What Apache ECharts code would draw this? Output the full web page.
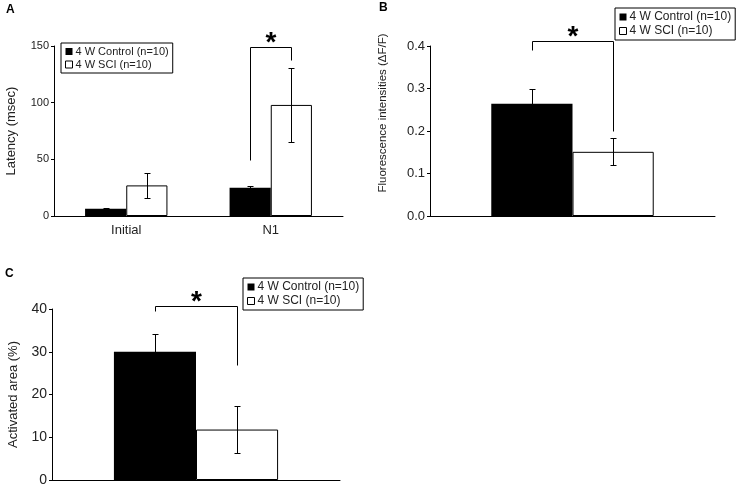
<!DOCTYPE html>
<html>
<head>
<meta charset="utf-8">
<script src="https://cdn.jsdelivr.net/npm/echarts@6/dist/echarts.min.js"></script>
<style>
  html, body { margin: 0; padding: 0; background: #fff; }
  #main { width: 737px; height: 489px; }
</style>
</head>
<body>
<div id="main"></div>
<script>
// 数据
var nameCtrl = '4 W Control (n=10)';
var nameSci = '4 W SCI (n=10)';

var catsA = ['Initial', 'N1'];
var ctrlA = [6.5, 25];
var ctrlErrA = [1, 1.5];
var sciA = [27, 98];
var sciErrA = [11, 32.5];

var catsB = [''];
var ctrlB = [0.264];
var ctrlErrB = [0.036];
var sciB = [0.151];
var sciErrB = [0.032];

var catsC = [''];
var ctrlC = [30];
var ctrlErrC = [4.2];
var sciC = [11.8];
var sciErrC = [5.5];

// bracket: [category, top, left foot, right foot]
var bracketA = [1, 149, 49, 138];
var bracketB = [0, 0.412, 0.39, 0.2];
var bracketC = [0, 40.6, 39.5, 27];

var GAP = 0.43;
var FONT = 'Liberation Sans, Arial, sans-serif';

var myChart = echarts.init(document.getElementById('main'));

function px(v) { return Math.round(v) + 0.5; }

function errRender(side) {
    return function (params, api) {
        var x = api.value(0), m = api.value(1), e = api.value(2);
        var band = api.size([1, 0])[0];
        var bw = band * (1 - GAP) / 2;
        var cx = px(api.coord([x, m])[0] + side * bw / 2);
        var top = px(api.coord([x, m + e])[1]);
        var bot = px(api.coord([x, m - e])[1]);
        var st = { stroke: '#000', lineWidth: 1 };
        return {
            type: 'group',
            children: [
                { type: 'line', shape: { x1: cx, y1: top, x2: cx, y2: bot }, style: st },
                { type: 'line', shape: { x1: cx - 3, y1: top, x2: cx + 3, y2: top }, style: st },
                { type: 'line', shape: { x1: cx - 3, y1: bot, x2: cx + 3, y2: bot }, style: st }
            ]
        };
    };
}

function bracketRender(params, api) {
    var x = api.value(0);
    var band = api.size([1, 0])[0];
    var bw = band * (1 - GAP) / 2;
    var c = api.coord([x, api.value(1)]);
    var xl = px(c[0] - bw / 2), xr = px(c[0] + bw / 2);
    var yt = px(c[1]);
    var yl = px(api.coord([x, api.value(2)])[1]);
    var yr = px(api.coord([x, api.value(3)])[1]);
    var st = { stroke: '#000', lineWidth: 1, fill: null };
    return {
        type: 'group',
        children: [
            { type: 'polyline', shape: { points: [[xl, yl], [xl, yt], [xr, yt], [xr, yr]] }, style: st },
            { type: 'text', x: (xl + xr) / 2, y: yt - 4,
              style: { text: '*', fill: '#000', font: 'bold 28px ' + FONT, align: 'center', verticalAlign: 'middle' } }
        ]
    };
}

function zip(vals, errs) {
    return vals.map(function (v, i) { return [i, v, errs[i]]; });
}

function panelSeries(idx, ctrl, ctrlErr, sci, sciErr, bracket) {
    return [
        { name: nameCtrl, type: 'bar', xAxisIndex: idx, yAxisIndex: idx, data: ctrl,
          barGap: '0%', barCategoryGap: (GAP * 100) + '%',
          itemStyle: { color: '#000' } },
        { name: nameSci, type: 'bar', xAxisIndex: idx, yAxisIndex: idx, data: sci,
          barGap: '0%', barCategoryGap: (GAP * 100) + '%',
          itemStyle: { color: '#fff', borderColor: '#000', borderWidth: 1 } },
        { type: 'custom', xAxisIndex: idx, yAxisIndex: idx, z: 3, renderItem: errRender(-1), data: zip(ctrl, ctrlErr) },
        { type: 'custom', xAxisIndex: idx, yAxisIndex: idx, z: 3, renderItem: errRender(1), data: zip(sci, sciErr) },
        { type: 'custom', xAxisIndex: idx, yAxisIndex: idx, z: 3, renderItem: bracketRender, data: [bracket] }
    ];
}

function xAxisOf(idx, cats, labelSize) {
    return {
        type: 'category', gridIndex: idx, data: cats,
        axisLine: { lineStyle: { color: '#000', width: 1 } },
        axisTick: { show: false },
        axisLabel: { color: '#222', fontSize: labelSize, fontFamily: FONT, margin: 8 }
    };
}

function yAxisOf(idx, max, interval, name, nameSize, nameGap, namePad, labelSize, fmt) {
    return {
        type: 'value', gridIndex: idx, min: 0, max: max, interval: interval,
        name: name, nameLocation: 'middle', nameGap: nameGap,
        nameTextStyle: { color: '#222', fontSize: nameSize, fontFamily: FONT, padding: namePad },
        axisLine: { show: true, lineStyle: { color: '#000', width: 1 } },
        axisTick: { show: true, length: 3, lineStyle: { color: '#000' } },
        splitLine: { show: false },
        axisLabel: { color: '#222', fontSize: labelSize, fontFamily: FONT, margin: 5, formatter: fmt }
    };
}

function legendOf(left, top, size) {
    return {
        left: left, top: top, orient: 'vertical',
        icon: 'rect', itemWidth: 7, itemHeight: 7, itemGap: 2,
        padding: [3, 4], borderColor: '#000', borderWidth: 1, borderRadius: 0,
        backgroundColor: '#fff', selectedMode: false,
        textStyle: { color: '#222', fontSize: size, fontFamily: FONT, padding: [0, 0, 0, -2] },
        data: [
            { name: nameCtrl, itemStyle: { color: '#000', borderWidth: 0 } },
            { name: nameSci, itemStyle: { color: '#fff', borderColor: '#000', borderWidth: 1 } }
        ]
    };
}

var option = {
    animation: false,
    backgroundColor: '#fff',
    grid: [
        { left: 54, right: 394, top: 46, bottom: 273 },
        { left: 430, right: 22, top: 46, bottom: 273 },
        { left: 52, right: 397, top: 309, bottom: 9 }
    ],
    xAxis: [
        xAxisOf(0, catsA, 13),
        xAxisOf(1, catsB, 12),
        xAxisOf(2, catsC, 12)
    ],
    yAxis: [
        yAxisOf(0, 150, 50, 'Latency (msec)', 13, 36, 0, 11),
        yAxisOf(1, 0.4, 0.1, 'Fluorescence intensities (ΔF/F)', 11.5, 41, [0, 0, 0, 36], 13, function (v) { return v.toFixed(1); }),
        yAxisOf(2, 40, 10, 'Activated area (%)', 13, 32, 0, 14)
    ],
    legend: [
        legendOf(61, 43, 11),
        legendOf(615, 8, 12),
        legendOf(243, 278, 12)
    ],
    graphic: [
        { type: 'text', left: 6, top: 4, style: { text: 'A', font: 'bold 12px ' + FONT, fill: '#000' } },
        { type: 'text', left: 379, top: 2, style: { text: 'B', font: 'bold 12px ' + FONT, fill: '#000' } },
        { type: 'text', left: 5, top: 268, style: { text: 'C', font: 'bold 12px ' + FONT, fill: '#000' } }
    ],
    series: [].concat(
        panelSeries(0, ctrlA, ctrlErrA, sciA, sciErrA, bracketA),
        panelSeries(1, ctrlB, ctrlErrB, sciB, sciErrB, bracketB),
        panelSeries(2, ctrlC, ctrlErrC, sciC, sciErrC, bracketC)
    )
};

myChart.setOption(option);
</script>
</body>
</html>
